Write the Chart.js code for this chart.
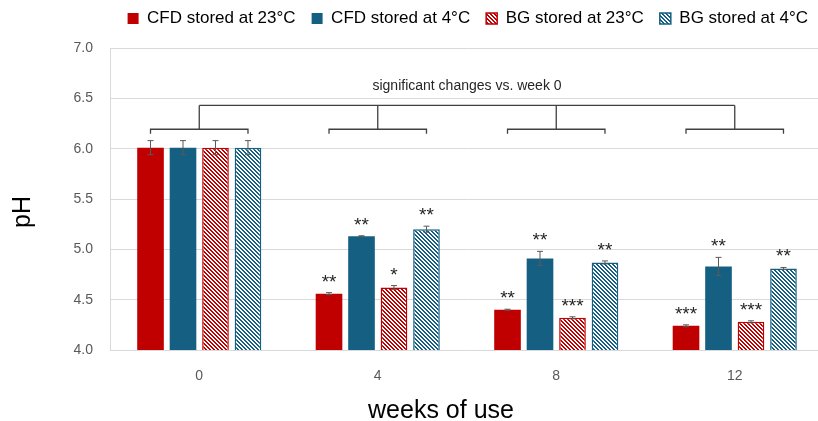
<!DOCTYPE html>
<html><head><meta charset="utf-8">
<script src="https://cdn.jsdelivr.net/npm/chart.js@4.4.1/dist/chart.umd.min.js"></script>
<style>html,body{margin:0;padding:0;overflow:hidden;background:#fff}
#wrap{position:relative;width:826px;height:421px}</style></head>
<body><div id="wrap"><canvas id="c"></canvas></div>
<script>
const categories = ['0', '4', '8', '12'];
const seriesNames = ['CFD stored at 23°C', 'CFD stored at 4°C', 'BG stored at 23°C', 'BG stored at 4°C'];
const cfd23 = [6.01, 4.56, 4.40, 4.24];
const cfd4  = [6.01, 5.13, 4.91, 4.83];
const bg23  = [6.01, 4.62, 4.32, 4.28];
const bg4   = [6.01, 5.20, 4.87, 4.81];
const cfd23Err = [0.07, 0.01, 0.005, 0.01];
const cfd4Err  = [0.07, 0.005, 0.07, 0.09];
const bg23Err  = [0.07, 0.02, 0.01, 0.01];
const bg4Err   = [0.07, 0.03, 0.015, 0.01];
const cfd23Sig = ['', '**', '**', '***'];
const cfd4Sig  = ['', '**', '**', '**'];
const bg23Sig  = ['', '*', '***', '***'];
const bg4Sig   = ['', '**', '**', '**'];
const yTicks = [4.0, 4.5, 5.0, 5.5, 6.0, 6.5, 7.0];
const bracketLabel = 'significant changes vs. week 0';
const xTitle = 'weeks of use';
const yTitle = 'pH';

const RED = '#C00000', BLUE = '#156082';
const FONT = "'Liberation Sans', Arial, sans-serif";
const canvas = document.getElementById('c');
const mainCtx = canvas.getContext('2d');

function hatch(color) {
  const t = document.createElement('canvas'); t.width = 4; t.height = 4;
  const x = t.getContext('2d');
  x.fillStyle = '#fff'; x.fillRect(0, 0, 4, 4);
  x.fillStyle = color;
  for (let yy = 0; yy < 4; yy++) { x.fillRect(yy % 4, yy, 1, 1); x.fillRect((yy + 1) % 4, yy, 1, 1); }
  return mainCtx.createPattern(t, 'repeat');
}

const errs = [cfd23Err, cfd4Err, bg23Err, bg4Err];
const sigs = [cfd23Sig, cfd4Sig, bg23Sig, bg4Sig];

const overlay = {
  id: 'overlay',
  beforeLayout(chart) {
    const lg = chart.legend;
    if (lg && !lg._patched) {
      const orig = lg.fit;
      lg.fit = function () { orig.call(this); this.height = 54; };
      lg._patched = true;
    }
  },
  afterDatasetsDraw(chart) {
    const ctx = chart.ctx, ys = chart.scales.y, xs = chart.scales.x;
    ctx.save();
    chart.data.datasets.forEach((ds, di) => {
      const meta = chart.getDatasetMeta(di);
      meta.data.forEach((bar, i) => {
        const v = ds.data[i], e = errs[di][i];
        const yT = ys.getPixelForValue(v + e), yB = ys.getPixelForValue(v - e);
        ctx.strokeStyle = '#595959'; ctx.lineWidth = 1;
        ctx.beginPath();
        ctx.moveTo(bar.x, yT); ctx.lineTo(bar.x, yB);
        ctx.moveTo(bar.x - 3, yT); ctx.lineTo(bar.x + 3, yT);
        ctx.moveTo(bar.x - 3, yB); ctx.lineTo(bar.x + 3, yB);
        ctx.stroke();
        const s = sigs[di][i];
        if (s) {
          ctx.fillStyle = '#262626';
          ctx.font = '19px ' + FONT;
          ctx.textAlign = 'center'; ctx.textBaseline = 'alphabetic';
          ctx.fillText(s, bar.x, yT - 5);
        }
      });
    });
    const m0 = chart.getDatasetMeta(0).data, m3 = chart.getDatasetMeta(3).data;
    const yTop = ys.getPixelForValue(6.43), ySmall = ys.getPixelForValue(6.193), yEnd = ys.getPixelForValue(6.147);
    ctx.strokeStyle = '#404040'; ctx.lineWidth = 1.3;
    ctx.beginPath();
    const c0 = xs.getPixelForValue(0), c3 = xs.getPixelForValue(categories.length - 1);
    ctx.moveTo(c0, yTop); ctx.lineTo(c3, yTop);
    categories.forEach((c, i) => {
      const cx = xs.getPixelForValue(i);
      ctx.moveTo(cx, yTop); ctx.lineTo(cx, ySmall);
      const l = m0[i].x, r = m3[i].x;
      ctx.moveTo(l, yEnd); ctx.lineTo(l, ySmall); ctx.lineTo(r, ySmall); ctx.lineTo(r, yEnd);
    });
    ctx.stroke();
    ctx.fillStyle = '#262626'; ctx.font = '14px ' + FONT;
    ctx.textAlign = 'center'; ctx.textBaseline = 'middle';
    ctx.fillText(bracketLabel, (c0 + c3) / 2, ys.getPixelForValue(6.623));
    // axis titles
    ctx.fillStyle = '#000'; ctx.font = '25px ' + FONT;
    ctx.textAlign = 'center'; ctx.textBaseline = 'middle';
    ctx.fillText(xTitle, 441, 411);
    ctx.save();
    ctx.translate(23, 212); ctx.rotate(-Math.PI / 2);
    ctx.fillText(yTitle, 0, 0);
    ctx.restore();
    ctx.restore();
  }
};

new Chart(canvas, {
  type: 'bar',
  data: {
    labels: categories,
    datasets: [
      { label: seriesNames[0], data: cfd23, backgroundColor: RED, borderColor: RED, borderWidth: 0 },
      { label: seriesNames[1], data: cfd4, backgroundColor: BLUE, borderColor: BLUE, borderWidth: 0 },
      { label: seriesNames[2], data: bg23, backgroundColor: hatch(RED), borderColor: RED, borderWidth: 1.5 },
      { label: seriesNames[3], data: bg4, backgroundColor: hatch(BLUE), borderColor: BLUE, borderWidth: 1.5 }
    ]
  },
  options: {
    responsive: true, maintainAspectRatio: false, animation: false,
    devicePixelRatio: 1,
    layout: { padding: { top: -6, right: 2, left: 0, bottom: 0 } },
    datasets: { bar: { categoryPercentage: 0.728, barPercentage: 0.82 } },
    plugins: {
      legend: {
        position: 'top', align: 'end',
        labels: { boxWidth: 11, boxHeight: 11, padding: 16, color: '#000', font: { family: FONT, size: 17 } }
      },
      tooltip: { enabled: false }
    },
    scales: {
      x: {
        grid: { display: false },
        border: { display: true, color: '#d9d9d9', width: 1 },
        ticks: { color: '#595959', padding: 10, font: { family: FONT, size: 14 } },
        title: { display: false },
        afterFit(s) { s.height = 71; }
      },
      y: {
        min: 4, max: 7,
        afterBuildTicks(s) { s.ticks = yTicks.map(v => ({ value: v })); },
        grid: { color: '#d9d9d9', drawTicks: false, lineWidth: 1 },
        border: { display: true, color: '#d9d9d9', width: 1 },
        ticks: { color: '#595959', padding: 17, font: { family: FONT, size: 14 }, callback: v => Number(v).toFixed(1) },
        afterFit(s) { s.width = 110; }
      }
    }
  },
  plugins: [overlay]
});
</script>
</body></html>
